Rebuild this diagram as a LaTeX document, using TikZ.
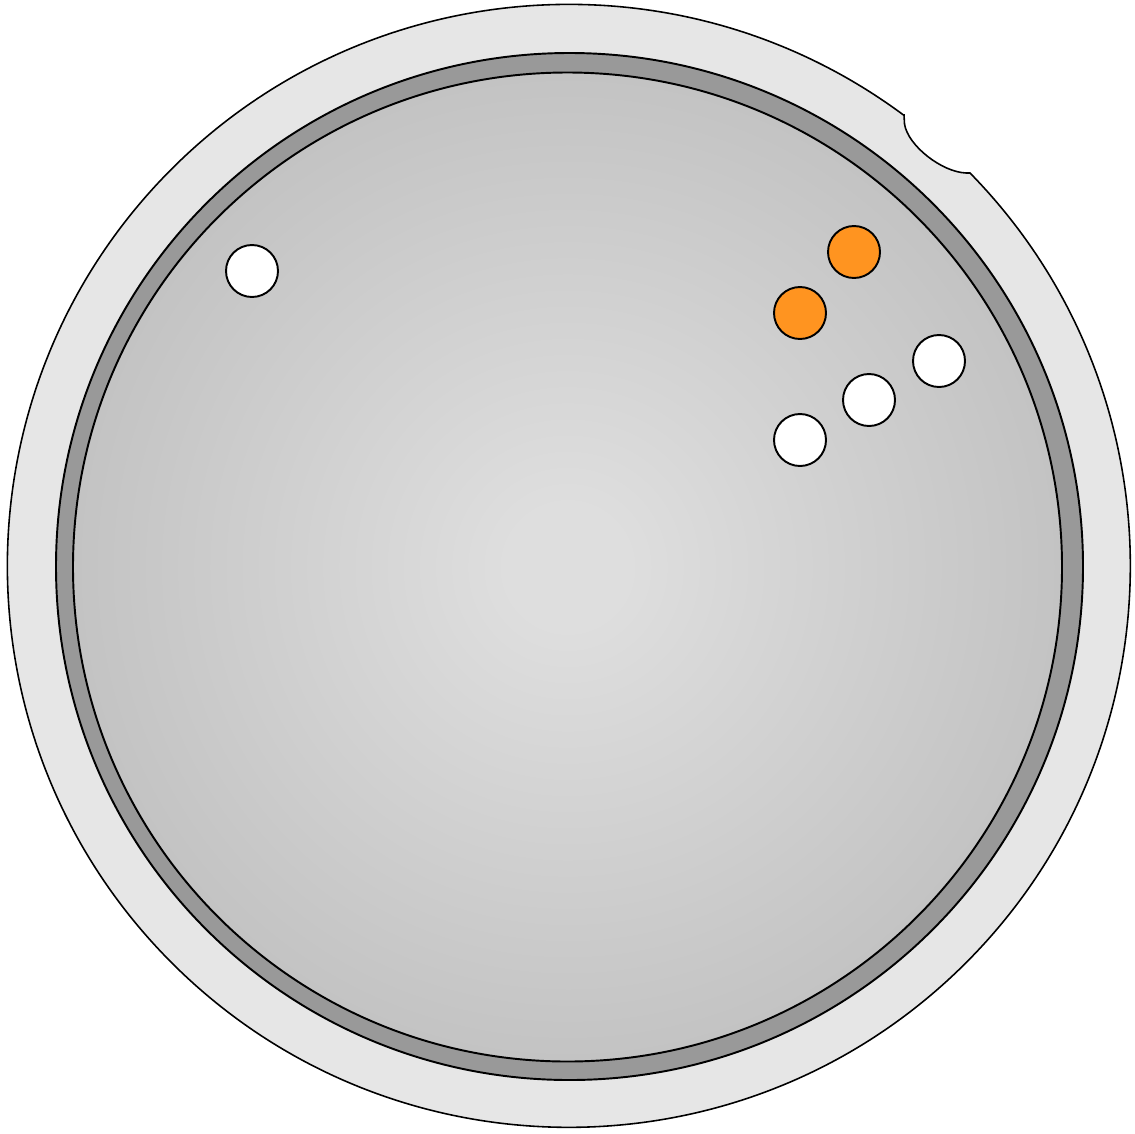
\documentclass[tikz,border=0pt]{standalone}
\usepackage{tikz}
\definecolor{rimgray}{HTML}{E6E6E6}
\definecolor{ringgray}{HTML}{999999}
\definecolor{discin}{HTML}{DEDEDE}
\definecolor{discout}{HTML}{C3C3C3}
\definecolor{wellorange}{RGB}{255,148,32}
\pgfdeclareradialshading{discshade}{\pgfpoint{0bp}{0bp}}{color(0bp)=(discin); color(3bp)=(discin); color(25bp)=(discout); color(50bp)=(discout)}
\tikzset{
  well/.style={circle,draw=black,line width=1.1pt,minimum size=1.04cm,inner sep=0pt},
  emptywell/.style={well,fill=white},
  fullwell/.style={well,fill=wellorange}
}

\begin{document}
\begin{tikzpicture}[x=0.02cm,y=-0.02cm]
  \useasboundingbox (0,0) rectangle (1135,1133);
  % outer plate with notch
  \filldraw[fill=rimgray,draw=black,line width=0.9pt]
    (904,115) -- (904.5,124) .. controls (908,146) and (942,172) .. (966,173) -- (970,173)
    arc[start angle=-44.4,end angle=306.6,radius=561.5] -- cycle;
  % dark ring and disc
  \filldraw[fill=ringgray,draw=black,line width=1.1pt] (569.5,566.5) circle[radius=513.5];
  \draw[line width=1.1pt,shading=discshade] (567.5,567) circle[radius=494.5];
  % wells
  \node[emptywell] (w1) at (252,271) {};
  \node[fullwell]  (o1) at (854,252) {};
  \node[fullwell]  (o2) at (800,313) {};
  \node[emptywell] (w2) at (939,361) {};
  \node[emptywell] (w3) at (869,400) {};
  \node[emptywell] (w4) at (800,440) {};
\end{tikzpicture}
\end{document}
